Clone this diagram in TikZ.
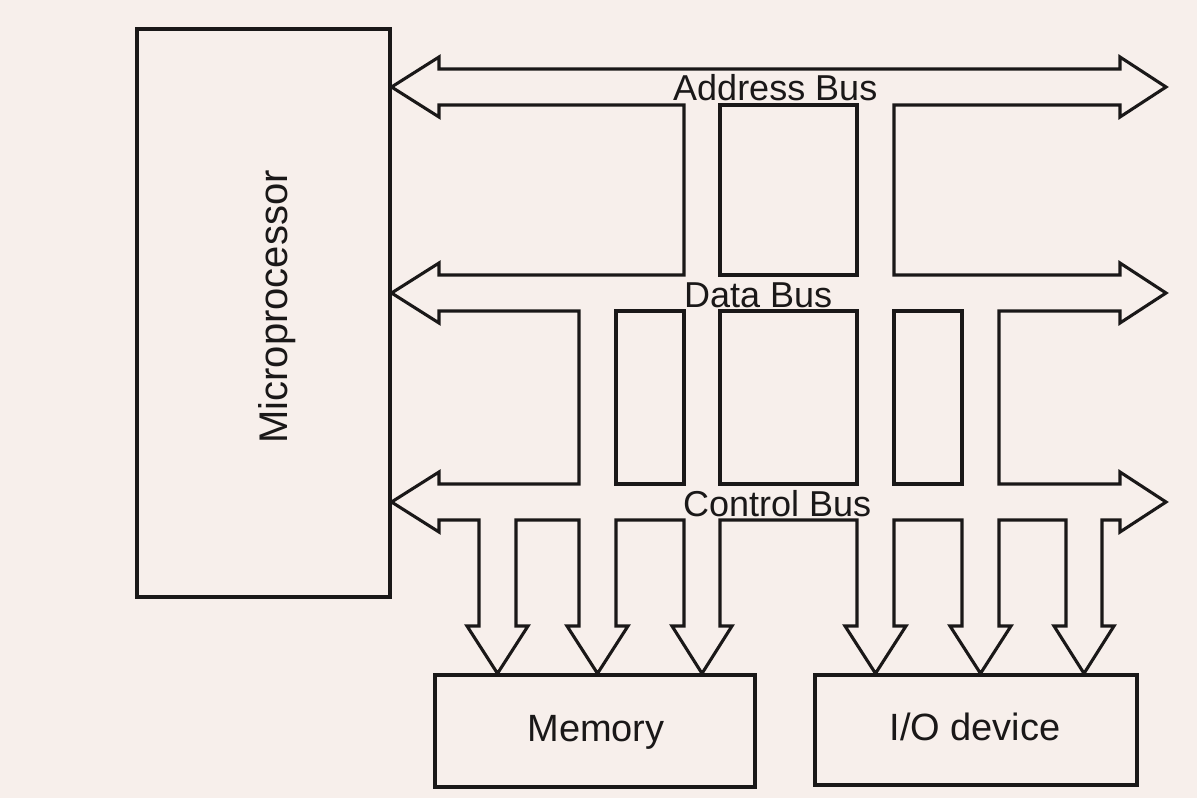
\documentclass[tikz,border=0pt]{standalone}
\usepackage{fontspec}
\setmainfont{Liberation Sans}
\definecolor{paper}{RGB}{247,239,235}
\definecolor{ink}{RGB}{26,24,24}
\begin{document}
\begin{tikzpicture}[x=1pt,y=-1pt,
  busline/.style={draw=ink, line width=3.1pt, line join=miter},
  block/.style={draw=ink, line width=3.1pt, inner sep=0pt},
  lbl/.style={font=\fontsize{36}{42}\selectfont, text=ink, inner sep=0pt},
  boxlbl/.style={font=\fontsize{38}{44}\selectfont, text=ink, inner sep=0pt}]

% page
\fill[paper] (0,0) rectangle (1197,798);
\useasboundingbox (0,0) rectangle (1197,798);

% units
\node[block, minimum width=253pt, minimum height=568pt] (mp) at (263.5,313) {};
\node[font=\fontsize{40}{46}\selectfont, text=ink, inner sep=0pt, rotate=90] (mplabel) at (277,307) {Microprocessor};
\node[block, minimum width=320pt, minimum height=112pt] (mem) at (595,731) {};
\node[boxlbl] (memlabel) at (596,732) {Memory};
\node[block, minimum width=322pt, minimum height=110pt] (io) at (976,730) {};
\node[boxlbl] (iolabel) at (975,727) {I/O device};

% bus tips on the processor side
\coordinate (addrL) at (mp.east |- 0,87);
\coordinate (dataL) at (mp.east |- 0,293);
\coordinate (ctrlL) at (mp.east |- 0,502);

% outer outline of the three buses with their branches
\draw[busline]
  (addrL) -- (439,57) -- (439,69) -- (1120,69) -- (1120,57) -- (1166,87) -- (1120,117) -- (1120,105)
  -- (894,105) -- (894,275)
  -- (1120,275) -- (1120,263) -- (1166,293) -- (1120,323) -- (1120,311)
  -- (999,311) -- (999,484)
  -- (1120,484) -- (1120,472) -- (1166,502) -- (1120,532) -- (1120,520)
  -- (1102,520) -- (1102,626) -- (1114,626) -- (1084,0 |- io.north) -- (1054,626) -- (1066,626) -- (1066,520)
  -- (999,520) -- (999,626) -- (1011,626) -- (980.5,0 |- io.north) -- (950,626) -- (962,626) -- (962,520)
  -- (894,520) -- (894,626) -- (906,626) -- (875.5,0 |- io.north) -- (845,626) -- (857,626) -- (857,520)
  -- (720,520) -- (720,626) -- (732,626) -- (702,0 |- mem.north) -- (672,626) -- (684,626) -- (684,520)
  -- (616,520) -- (616,626) -- (628,626) -- (597.5,0 |- mem.north) -- (567,626) -- (579,626) -- (579,520)
  -- (516,520) -- (516,626) -- (528,626) -- (497.5,0 |- mem.north) -- (467,626) -- (479,626) -- (479,520)
  -- (439,520) -- (439,532) -- (ctrlL) -- (439,472) -- (439,484)
  -- (579,484) -- (579,311)
  -- (439,311) -- (439,323) -- (dataL) -- (439,263) -- (439,275)
  -- (684,275) -- (684,105)
  -- (439,105) -- (439,117) -- cycle;

% enclosed gaps between buses and branches
\draw[busline] (720,105) rectangle (857,275);
\draw[busline] (616,311) rectangle (684,484);
\draw[busline] (720,311) rectangle (857,484);
\draw[busline] (894,311) rectangle (962,484);

% bus names
\node[lbl, anchor=base west] (addrlabel) at (673,100) {Address Bus};
\node[lbl, anchor=base west] (datalabel) at (684,307) {Data Bus};
\node[lbl, anchor=base west] (ctrllabel) at (683,516) {Control Bus};
\end{tikzpicture}
\end{document}
